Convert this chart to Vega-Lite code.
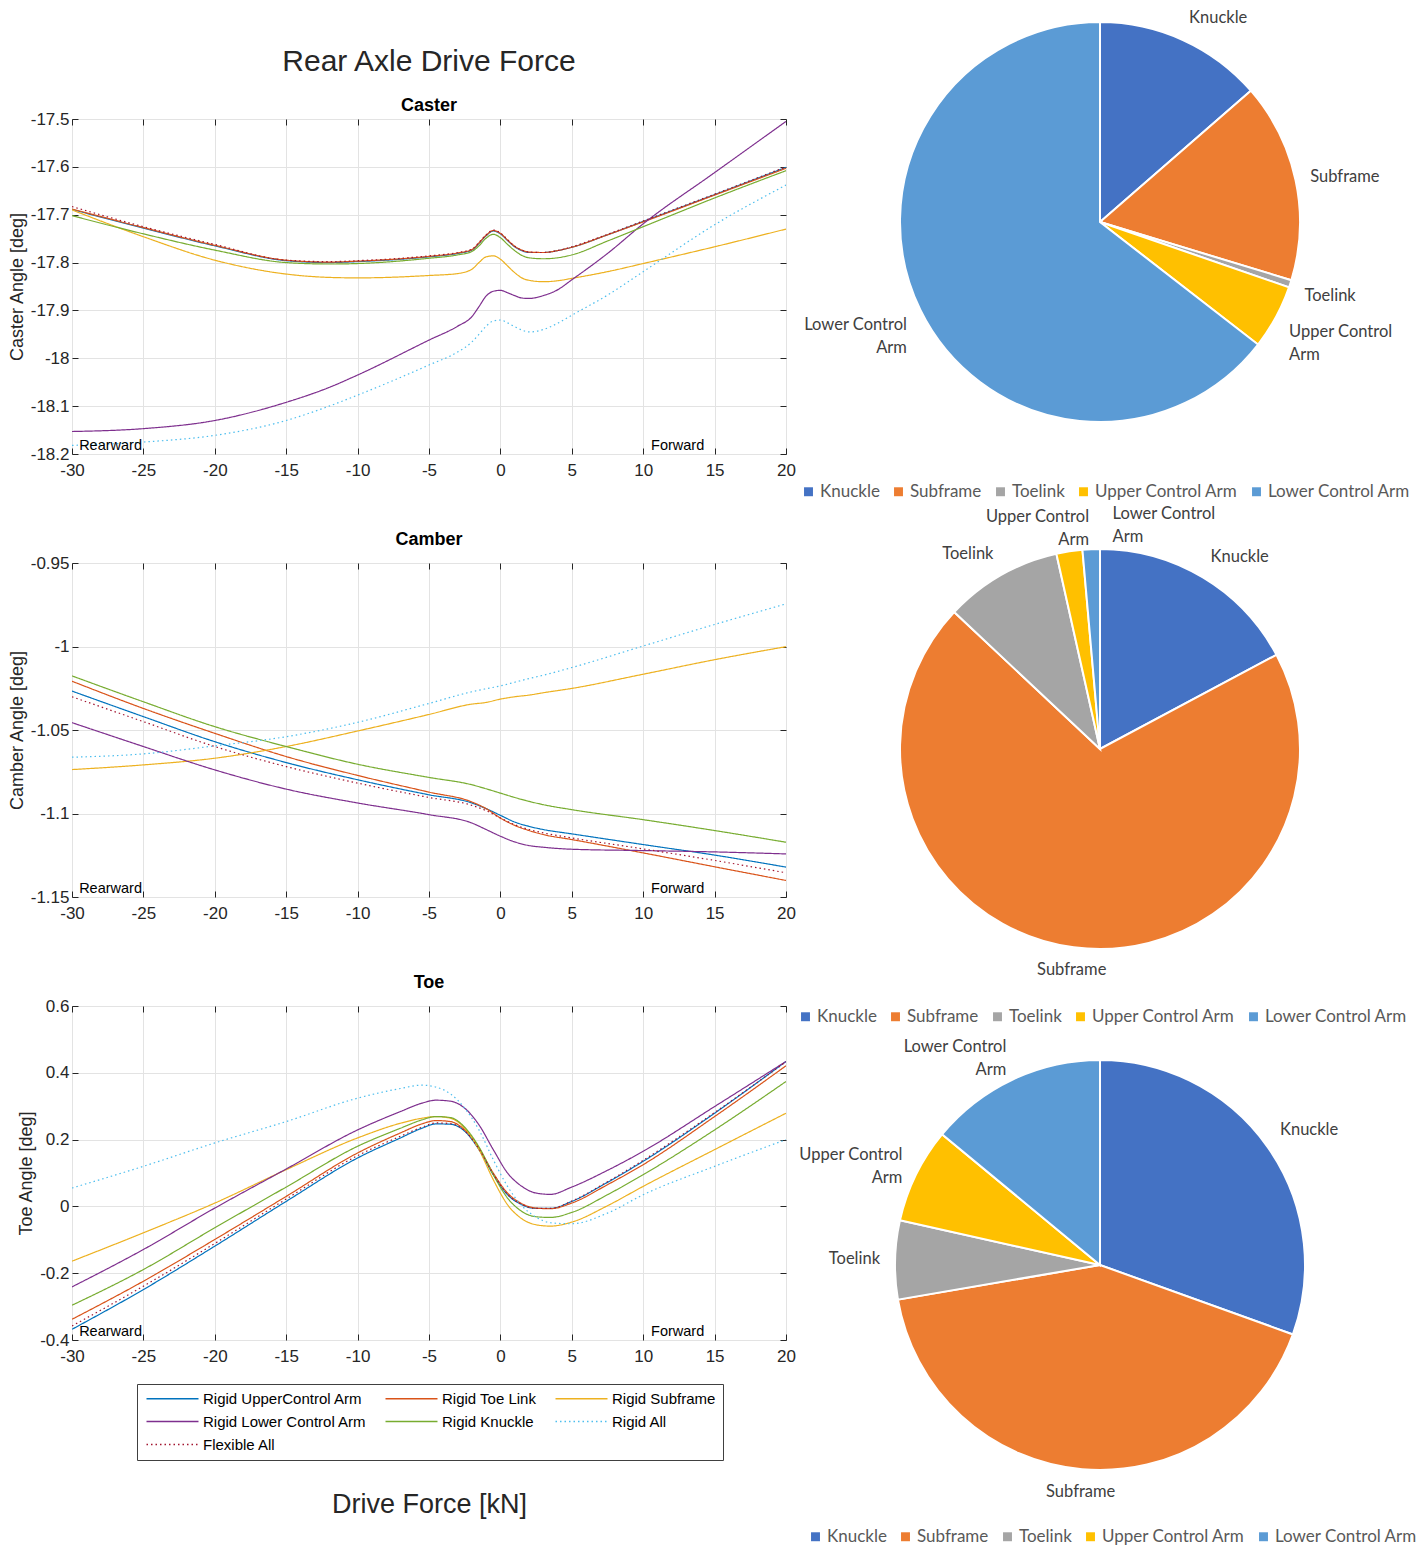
{
  "$schema": "https://vega.github.io/schema/vega-lite/v6.json",
  "background": "white",
  "padding": {"left": 7, "top": 2, "right": 0, "bottom": 0},
  "config": {
    "font": "Liberation Sans",
    "locale": {"number": {"decimal": ".", "thousands": ",", "grouping": [3], "currency": ["$", ""], "minus": "-"}},
    "view": {"stroke": "#262626", "strokeWidth": 1},
    "axis": {"labelFont": "Liberation Sans", "labelFontSize": 17, "labelColor": "#262626", "labelFlush": false, "titleFont": "Liberation Sans", "titleFontSize": 18, "titleFontWeight": "normal", "titleColor": "#262626", "gridColor": "#e3e3e3", "tickColor": "#262626", "domain": false},
    "title": {"font": "Liberation Sans", "color": "#262626"}
  },
  "datasets": {
    "caster": [
      {"x": -30, "Rigid UpperControl Arm": -17.689, "Rigid Toe Link": -17.688, "Rigid Subframe": -17.690, "Rigid Lower Control Arm": -18.153, "Rigid Knuckle": -17.702, "Rigid All": -18.182, "Flexible All": -17.683},
      {"x": -25, "Rigid UpperControl Arm": -17.728, "Rigid Toe Link": -17.727, "Rigid Subframe": -17.746, "Rigid Lower Control Arm": -18.147, "Rigid Knuckle": -17.740, "Rigid All": -18.175, "Flexible All": -17.725},
      {"x": -20, "Rigid UpperControl Arm": -17.765, "Rigid Toe Link": -17.764, "Rigid Subframe": -17.795, "Rigid Lower Control Arm": -18.130, "Rigid Knuckle": -17.774, "Rigid All": -18.161, "Flexible All": -17.762},
      {"x": -15, "Rigid UpperControl Arm": -17.796, "Rigid Toe Link": -17.795, "Rigid Subframe": -17.824, "Rigid Lower Control Arm": -18.092, "Rigid Knuckle": -17.800, "Rigid All": -18.130, "Flexible All": -17.795},
      {"x": -12, "Rigid UpperControl Arm": -17.800, "Rigid Toe Link": -17.799, "Rigid Subframe": -17.831, "Rigid Lower Control Arm": -18.061, "Rigid Knuckle": -17.803, "Rigid All": -18.100, "Flexible All": -17.798},
      {"x": -10, "Rigid UpperControl Arm": -17.798, "Rigid Toe Link": -17.797, "Rigid Subframe": -17.832, "Rigid Lower Control Arm": -18.035, "Rigid Knuckle": -17.802, "Rigid All": -18.077, "Flexible All": -17.796},
      {"x": -5, "Rigid UpperControl Arm": -17.788, "Rigid Toe Link": -17.787, "Rigid Subframe": -17.827, "Rigid Lower Control Arm": -17.962, "Rigid Knuckle": -17.791, "Rigid All": -18.014, "Flexible All": -17.786},
      {"x": -3, "Rigid UpperControl Arm": -17.781, "Rigid Toe Link": -17.780, "Rigid Subframe": -17.823, "Rigid Lower Control Arm": -17.933, "Rigid Knuckle": -17.784, "Rigid All": -17.987, "Flexible All": -17.779},
      {"x": -2, "Rigid UpperControl Arm": -17.774, "Rigid Toe Link": -17.773, "Rigid Subframe": -17.814, "Rigid Lower Control Arm": -17.913, "Rigid Knuckle": -17.777, "Rigid All": -17.966, "Flexible All": -17.772},
      {"x": -1.5, "Rigid UpperControl Arm": -17.760, "Rigid Toe Link": -17.759, "Rigid Subframe": -17.800, "Rigid Lower Control Arm": -17.892, "Rigid Knuckle": -17.765, "Rigid All": -17.950, "Flexible All": -17.758},
      {"x": -1, "Rigid UpperControl Arm": -17.744, "Rigid Toe Link": -17.743, "Rigid Subframe": -17.788, "Rigid Lower Control Arm": -17.870, "Rigid Knuckle": -17.749, "Rigid All": -17.933, "Flexible All": -17.742},
      {"x": -0.5, "Rigid UpperControl Arm": -17.734, "Rigid Toe Link": -17.733, "Rigid Subframe": -17.786, "Rigid Lower Control Arm": -17.860, "Rigid Knuckle": -17.741, "Rigid All": -17.922, "Flexible All": -17.732},
      {"x": 0, "Rigid UpperControl Arm": -17.740, "Rigid Toe Link": -17.739, "Rigid Subframe": -17.793, "Rigid Lower Control Arm": -17.858, "Rigid Knuckle": -17.748, "Rigid All": -17.920, "Flexible All": -17.738},
      {"x": 0.5, "Rigid UpperControl Arm": -17.754, "Rigid Toe Link": -17.753, "Rigid Subframe": -17.807, "Rigid Lower Control Arm": -17.863, "Rigid Knuckle": -17.762, "Rigid All": -17.926, "Flexible All": -17.752},
      {"x": 1, "Rigid UpperControl Arm": -17.767, "Rigid Toe Link": -17.766, "Rigid Subframe": -17.821, "Rigid Lower Control Arm": -17.869, "Rigid Knuckle": -17.775, "Rigid All": -17.934, "Flexible All": -17.766},
      {"x": 1.5, "Rigid UpperControl Arm": -17.775, "Rigid Toe Link": -17.774, "Rigid Subframe": -17.832, "Rigid Lower Control Arm": -17.874, "Rigid Knuckle": -17.785, "Rigid All": -17.941, "Flexible All": -17.774},
      {"x": 2, "Rigid UpperControl Arm": -17.779, "Rigid Toe Link": -17.778, "Rigid Subframe": -17.837, "Rigid Lower Control Arm": -17.875, "Rigid Knuckle": -17.790, "Rigid All": -17.945, "Flexible All": -17.778},
      {"x": 3, "Rigid UpperControl Arm": -17.779, "Rigid Toe Link": -17.779, "Rigid Subframe": -17.840, "Rigid Lower Control Arm": -17.869, "Rigid Knuckle": -17.792, "Rigid All": -17.940, "Flexible All": -17.779},
      {"x": 4, "Rigid UpperControl Arm": -17.775, "Rigid Toe Link": -17.775, "Rigid Subframe": -17.838, "Rigid Lower Control Arm": -17.857, "Rigid Knuckle": -17.790, "Rigid All": -17.927, "Flexible All": -17.775},
      {"x": 5, "Rigid UpperControl Arm": -17.768, "Rigid Toe Link": -17.768, "Rigid Subframe": -17.833, "Rigid Lower Control Arm": -17.836, "Rigid Knuckle": -17.784, "Rigid All": -17.910, "Flexible All": -17.767},
      {"x": 7.5, "Rigid UpperControl Arm": -17.742, "Rigid Toe Link": -17.742, "Rigid Subframe": -17.819, "Rigid Lower Control Arm": -17.781, "Rigid Knuckle": -17.755, "Rigid All": -17.868, "Flexible All": -17.741},
      {"x": 10, "Rigid UpperControl Arm": -17.714, "Rigid Toe Link": -17.715, "Rigid Subframe": -17.802, "Rigid Lower Control Arm": -17.719, "Rigid Knuckle": -17.725, "Rigid All": -17.819, "Flexible All": -17.713},
      {"x": 15, "Rigid UpperControl Arm": -17.658, "Rigid Toe Link": -17.659, "Rigid Subframe": -17.767, "Rigid Lower Control Arm": -17.612, "Rigid Knuckle": -17.665, "Rigid All": -17.721, "Flexible All": -17.657},
      {"x": 20, "Rigid UpperControl Arm": -17.601, "Rigid Toe Link": -17.603, "Rigid Subframe": -17.730, "Rigid Lower Control Arm": -17.505, "Rigid Knuckle": -17.608, "Rigid All": -17.638, "Flexible All": -17.600}
    ],
    "camber": [
      {"x": -30, "Rigid UpperControl Arm": -1.0267, "Rigid Toe Link": -1.0208, "Rigid Subframe": -1.0737, "Rigid Lower Control Arm": -1.0456, "Rigid Knuckle": -1.0176, "Rigid All": -1.0663, "Flexible All": -1.0301},
      {"x": -25, "Rigid UpperControl Arm": -1.0420, "Rigid Toe Link": -1.0371, "Rigid Subframe": -1.0709, "Rigid Lower Control Arm": -1.0599, "Rigid Knuckle": -1.0331, "Rigid All": -1.0643, "Flexible All": -1.0450},
      {"x": -20, "Rigid UpperControl Arm": -1.0570, "Rigid Toe Link": -1.0520, "Rigid Subframe": -1.0669, "Rigid Lower Control Arm": -1.0739, "Rigid Knuckle": -1.0480, "Rigid All": -1.0595, "Flexible All": -1.0599},
      {"x": -15, "Rigid UpperControl Arm": -1.0695, "Rigid Toe Link": -1.0659, "Rigid Subframe": -1.0599, "Rigid Lower Control Arm": -1.0854, "Rigid Knuckle": -1.0599, "Rigid All": -1.0540, "Flexible All": -1.0719},
      {"x": -10, "Rigid UpperControl Arm": -1.0798, "Rigid Toe Link": -1.0772, "Rigid Subframe": -1.0506, "Rigid Lower Control Arm": -1.0937, "Rigid Knuckle": -1.0705, "Rigid All": -1.0454, "Flexible All": -1.0818},
      {"x": -5, "Rigid UpperControl Arm": -1.0888, "Rigid Toe Link": -1.0872, "Rigid Subframe": -1.0407, "Rigid Lower Control Arm": -1.1007, "Rigid Knuckle": -1.0784, "Rigid All": -1.0341, "Flexible All": -1.0904},
      {"x": -2, "Rigid UpperControl Arm": -1.0937, "Rigid Toe Link": -1.0931, "Rigid Subframe": -1.0345, "Rigid Lower Control Arm": -1.1057, "Rigid Knuckle": -1.0828, "Rigid All": -1.0271, "Flexible All": -1.0951},
      {"x": -1, "Rigid UpperControl Arm": -1.0971, "Rigid Toe Link": -1.0971, "Rigid Subframe": -1.0335, "Rigid Lower Control Arm": -1.1096, "Rigid Knuckle": -1.0852, "Rigid All": -1.0253, "Flexible All": -1.0983},
      {"x": 0, "Rigid UpperControl Arm": -1.1011, "Rigid Toe Link": -1.1027, "Rigid Subframe": -1.0315, "Rigid Lower Control Arm": -1.1136, "Rigid Knuckle": -1.0878, "Rigid All": -1.0236, "Flexible All": -1.1027},
      {"x": 1, "Rigid UpperControl Arm": -1.1051, "Rigid Toe Link": -1.1071, "Rigid Subframe": -1.0301, "Rigid Lower Control Arm": -1.1170, "Rigid Knuckle": -1.0904, "Rigid All": -1.0214, "Flexible All": -1.1067},
      {"x": 2, "Rigid UpperControl Arm": -1.1077, "Rigid Toe Link": -1.1102, "Rigid Subframe": -1.0291, "Rigid Lower Control Arm": -1.1192, "Rigid Knuckle": -1.0927, "Rigid All": -1.0192, "Flexible All": -1.1096},
      {"x": 3, "Rigid UpperControl Arm": -1.1096, "Rigid Toe Link": -1.1126, "Rigid Subframe": -1.0277, "Rigid Lower Control Arm": -1.1202, "Rigid Knuckle": -1.0947, "Rigid All": -1.0172, "Flexible All": -1.1116},
      {"x": 5, "Rigid UpperControl Arm": -1.1122, "Rigid Toe Link": -1.1156, "Rigid Subframe": -1.0251, "Rigid Lower Control Arm": -1.1214, "Rigid Knuckle": -1.0977, "Rigid All": -1.0126, "Flexible All": -1.1146},
      {"x": 10, "Rigid UpperControl Arm": -1.1186, "Rigid Toe Link": -1.1236, "Rigid Subframe": -1.0166, "Rigid Lower Control Arm": -1.1222, "Rigid Knuckle": -1.1037, "Rigid All": -0.9997, "Flexible All": -1.1212},
      {"x": 15, "Rigid UpperControl Arm": -1.1249, "Rigid Toe Link": -1.1319, "Rigid Subframe": -1.0079, "Rigid Lower Control Arm": -1.1230, "Rigid Knuckle": -1.1102, "Rigid All": -0.9868, "Flexible All": -1.1281},
      {"x": 20, "Rigid UpperControl Arm": -1.1321, "Rigid Toe Link": -1.1401, "Rigid Subframe": -1.0001, "Rigid Lower Control Arm": -1.1242, "Rigid Knuckle": -1.1172, "Rigid All": -0.9745, "Flexible All": -1.1355}
    ],
    "toe": [
      {"x": -30, "Rigid UpperControl Arm": -0.368, "Rigid Toe Link": -0.338, "Rigid Subframe": -0.164, "Rigid Lower Control Arm": -0.241, "Rigid Knuckle": -0.296, "Rigid All": 0.055, "Flexible All": -0.358},
      {"x": -25, "Rigid UpperControl Arm": -0.249, "Rigid Toe Link": -0.224, "Rigid Subframe": -0.079, "Rigid Lower Control Arm": -0.129, "Rigid Knuckle": -0.189, "Rigid All": 0.120, "Flexible All": -0.239},
      {"x": -20, "Rigid UpperControl Arm": -0.119, "Rigid Toe Link": -0.099, "Rigid Subframe": 0.010, "Rigid Lower Control Arm": -0.005, "Rigid Knuckle": -0.064, "Rigid All": 0.190, "Flexible All": -0.111},
      {"x": -15, "Rigid UpperControl Arm": 0.015, "Rigid Toe Link": 0.030, "Rigid Subframe": 0.110, "Rigid Lower Control Arm": 0.112, "Rigid Knuckle": 0.058, "Rigid All": 0.254, "Flexible All": 0.022},
      {"x": -10, "Rigid UpperControl Arm": 0.145, "Rigid Toe Link": 0.160, "Rigid Subframe": 0.205, "Rigid Lower Control Arm": 0.229, "Rigid Knuckle": 0.180, "Rigid All": 0.324, "Flexible All": 0.152},
      {"x": -7, "Rigid UpperControl Arm": 0.205, "Rigid Toe Link": 0.220, "Rigid Subframe": 0.249, "Rigid Lower Control Arm": 0.284, "Rigid Knuckle": 0.234, "Rigid All": 0.353, "Flexible All": 0.210},
      {"x": -5.5, "Rigid UpperControl Arm": 0.234, "Rigid Toe Link": 0.247, "Rigid Subframe": 0.264, "Rigid Lower Control Arm": 0.309, "Rigid Knuckle": 0.259, "Rigid All": 0.363, "Flexible All": 0.237},
      {"x": -4.5, "Rigid UpperControl Arm": 0.247, "Rigid Toe Link": 0.257, "Rigid Subframe": 0.269, "Rigid Lower Control Arm": 0.318, "Rigid Knuckle": 0.269, "Rigid All": 0.357, "Flexible All": 0.250},
      {"x": -3.5, "Rigid UpperControl Arm": 0.246, "Rigid Toe Link": 0.254, "Rigid Subframe": 0.264, "Rigid Lower Control Arm": 0.315, "Rigid Knuckle": 0.266, "Rigid All": 0.337, "Flexible All": 0.248},
      {"x": -2.5, "Rigid UpperControl Arm": 0.225, "Rigid Toe Link": 0.229, "Rigid Subframe": 0.234, "Rigid Lower Control Arm": 0.294, "Rigid Knuckle": 0.237, "Rigid All": 0.294, "Flexible All": 0.226},
      {"x": -1.5, "Rigid UpperControl Arm": 0.170, "Rigid Toe Link": 0.175, "Rigid Subframe": 0.170, "Rigid Lower Control Arm": 0.244, "Rigid Knuckle": 0.178, "Rigid All": 0.229, "Flexible All": 0.172},
      {"x": -0.5, "Rigid UpperControl Arm": 0.095, "Rigid Toe Link": 0.100, "Rigid Subframe": 0.080, "Rigid Lower Control Arm": 0.170, "Rigid Knuckle": 0.095, "Rigid All": 0.140, "Flexible All": 0.097},
      {"x": 0.5, "Rigid UpperControl Arm": 0.035, "Rigid Toe Link": 0.040, "Rigid Subframe": 0.005, "Rigid Lower Control Arm": 0.100, "Rigid Knuckle": 0.025, "Rigid All": 0.060, "Flexible All": 0.036},
      {"x": 1.5, "Rigid UpperControl Arm": 0.005, "Rigid Toe Link": 0.008, "Rigid Subframe": -0.037, "Rigid Lower Control Arm": 0.060, "Rigid Knuckle": -0.015, "Rigid All": 0.002, "Flexible All": 0.006},
      {"x": 2.5, "Rigid UpperControl Arm": -0.006, "Rigid Toe Link": -0.005, "Rigid Subframe": -0.055, "Rigid Lower Control Arm": 0.040, "Rigid Knuckle": -0.031, "Rigid All": -0.032, "Flexible All": -0.006},
      {"x": 3.5, "Rigid UpperControl Arm": -0.006, "Rigid Toe Link": -0.007, "Rigid Subframe": -0.059, "Rigid Lower Control Arm": 0.036, "Rigid Knuckle": -0.033, "Rigid All": -0.049, "Flexible All": -0.006},
      {"x": 5, "Rigid UpperControl Arm": 0.015, "Rigid Toe Link": 0.010, "Rigid Subframe": -0.047, "Rigid Lower Control Arm": 0.058, "Rigid Knuckle": -0.018, "Rigid All": -0.052, "Flexible All": 0.016},
      {"x": 7.5, "Rigid UpperControl Arm": 0.072, "Rigid Toe Link": 0.065, "Rigid Subframe": 0.002, "Rigid Lower Control Arm": 0.108, "Rigid Knuckle": 0.035, "Rigid All": -0.020, "Flexible All": 0.074},
      {"x": 10, "Rigid UpperControl Arm": 0.135, "Rigid Toe Link": 0.125, "Rigid Subframe": 0.060, "Rigid Lower Control Arm": 0.165, "Rigid Knuckle": 0.095, "Rigid All": 0.035, "Flexible All": 0.138},
      {"x": 15, "Rigid UpperControl Arm": 0.279, "Rigid Toe Link": 0.269, "Rigid Subframe": 0.170, "Rigid Lower Control Arm": 0.299, "Rigid Knuckle": 0.229, "Rigid All": 0.120, "Flexible All": 0.281},
      {"x": 20, "Rigid UpperControl Arm": 0.434, "Rigid Toe Link": 0.421, "Rigid Subframe": 0.279, "Rigid Lower Control Arm": 0.434, "Rigid Knuckle": 0.374, "Rigid All": 0.200, "Flexible All": 0.433}
    ],
    "pie1": [
      {"part": "Knuckle", "lab": "Knuckle", "v": 13.6, "o": 1},
      {"part": "Subframe", "lab": "Subframe", "v": 16.1, "o": 2},
      {"part": "Toelink", "lab": "Toelink", "v": 0.6, "o": 3},
      {"part": "Upper Control Arm", "lab": "Upper Control\nArm", "v": 5.2, "o": 4},
      {"part": "Lower Control Arm", "lab": "Lower Control\nArm", "v": 64.5, "o": 5}
    ],
    "pie2": [
      {"part": "Knuckle", "lab": "Knuckle", "v": 17.2, "o": 1},
      {"part": "Subframe", "lab": "Subframe", "v": 69.8, "o": 2},
      {"part": "Toelink", "lab": "Toelink", "v": 9.5, "o": 3},
      {"part": "Upper Control Arm", "lab": "Upper Control\nArm", "v": 2.1, "o": 4},
      {"part": "Lower Control Arm", "lab": "Lower Control\nArm", "v": 1.4, "o": 5}
    ],
    "pie3": [
      {"part": "Knuckle", "lab": "Knuckle", "v": 30.5, "o": 1},
      {"part": "Subframe", "lab": "Subframe", "v": 41.8, "o": 2},
      {"part": "Toelink", "lab": "Toelink", "v": 6.2, "o": 3},
      {"part": "Upper Control Arm", "lab": "Upper Control\nArm", "v": 7.5, "o": 4},
      {"part": "Lower Control Arm", "lab": "Lower Control\nArm", "v": 14.0, "o": 5}
    ]
  },
  "spacing": 1,
  "resolve": {"scale": {"color": "independent", "strokeDash": "independent", "theta": "independent"}, "legend": {"color": "independent", "strokeDash": "independent"}},
  "hconcat": [
    {
      "spacing": 51,
      "resolve": {"scale": {"color": "independent", "strokeDash": "independent"}, "legend": {"color": "independent", "strokeDash": "independent"}},
      "vconcat": [
        {
          "width": 714, "height": 335,
          "title": {"text": ["", "Rear Axle Drive Force"], "subtitle": "Caster", "fontSize": 30, "fontWeight": "normal", "lineHeight": 44, "subtitleFont": "Liberation Sans", "subtitleFontSize": 18, "subtitleFontWeight": "bold", "subtitleColor": "#000000", "subtitlePadding": 20, "offset": -5, "anchor": "middle"},
          "layer": [
            {
              "data": {"name": "caster"},
              "transform": [{"fold": ["Rigid UpperControl Arm", "Rigid Toe Link", "Rigid Subframe", "Rigid Lower Control Arm", "Rigid Knuckle", "Rigid All", "Flexible All"], "as": ["series", "val"]}],
              "mark": {"type": "line", "strokeWidth": 1.2, "interpolate": "monotone", "clip": true},
              "encoding": {
                "x": {"field": "x", "type": "quantitative", "scale": {"domain": [-30, 20], "nice": false, "zero": false}, "axis": {"values": [-30, -25, -20, -15, -10, -5, 0, 5, 10, 15, 20], "title": null, "grid": true, "tickSize": -6, "labelPadding": 14, "format": "~g"}},
                "y": {"field": "val", "type": "quantitative", "scale": {"domain": [-18.2, -17.5], "nice": false, "zero": false}, "axis": {"values": [-18.2, -18.1, -18, -17.9, -17.8, -17.7, -17.6, -17.5], "title": "Caster Angle [deg]", "grid": true, "tickSize": -6, "labelPadding": 9, "titlePadding": 4, "format": "~g"}},
                "color": {"field": "series", "type": "nominal", "scale": {"domain": ["Rigid UpperControl Arm", "Rigid Toe Link", "Rigid Subframe", "Rigid Lower Control Arm", "Rigid Knuckle", "Rigid All", "Flexible All"], "range": ["#0072BD", "#D95319", "#EDB120", "#7E2F8E", "#77AC30", "#4DBEEE", "#A2142F"]}, "legend": null},
                "strokeDash": {"field": "series", "type": "nominal", "scale": {"domain": ["Rigid UpperControl Arm", "Rigid Toe Link", "Rigid Subframe", "Rigid Lower Control Arm", "Rigid Knuckle", "Rigid All", "Flexible All"], "range": [[1, 0], [1, 0], [1, 0], [1, 0], [1, 0], [1.5, 3], [1.5, 3]]}, "legend": null}
              }
            },
            {
              "data": {"values": [{"x": -29.5, "y": -18.2, "label": "Rearward"}, {"x": 10.55, "y": -18.2, "label": "Forward"}]},
              "mark": {"type": "text", "align": "left", "baseline": "bottom", "dy": -1, "fontSize": 14.5, "color": "#000000"},
              "encoding": {
                "x": {"field": "x", "type": "quantitative", "scale": {"domain": [-30, 20], "nice": false, "zero": false}, "axis": {"orient": "top", "values": [-30, -25, -20, -15, -10, -5, 0, 5, 10, 15, 20], "labels": false, "title": null, "grid": false, "tickSize": -6}},
                "y": {"field": "y", "type": "quantitative", "scale": {"domain": [-18.2, -17.5], "nice": false, "zero": false}, "axis": {"orient": "right", "values": [-18.2, -18.1, -18, -17.9, -17.8, -17.7, -17.6, -17.5], "labels": false, "title": null, "grid": false, "tickSize": -6}},
                "text": {"field": "label"}
              }
            }
          ],
          "resolve": {"axis": {"x": "independent", "y": "independent"}}
        },
        {
          "width": 714, "height": 334,
          "title": {"text": "Camber", "fontSize": 18, "fontWeight": "bold", "color": "#000000", "offset": 5, "anchor": "middle"},
          "layer": [
            {
              "data": {"name": "camber"},
              "transform": [{"fold": ["Rigid UpperControl Arm", "Rigid Toe Link", "Rigid Subframe", "Rigid Lower Control Arm", "Rigid Knuckle", "Rigid All", "Flexible All"], "as": ["series", "val"]}],
              "mark": {"type": "line", "strokeWidth": 1.2, "interpolate": "monotone", "clip": true},
              "encoding": {
                "x": {"field": "x", "type": "quantitative", "scale": {"domain": [-30, 20], "nice": false, "zero": false}, "axis": {"values": [-30, -25, -20, -15, -10, -5, 0, 5, 10, 15, 20], "title": null, "grid": true, "tickSize": -6, "labelPadding": 14, "format": "~g"}},
                "y": {"field": "val", "type": "quantitative", "scale": {"domain": [-1.15, -0.95], "nice": false, "zero": false}, "axis": {"values": [-1.15, -1.1, -1.05, -1, -0.95], "title": "Camber Angle [deg]", "grid": true, "tickSize": -6, "labelPadding": 9, "titlePadding": 4, "format": "~g"}},
                "color": {"field": "series", "type": "nominal", "scale": {"domain": ["Rigid UpperControl Arm", "Rigid Toe Link", "Rigid Subframe", "Rigid Lower Control Arm", "Rigid Knuckle", "Rigid All", "Flexible All"], "range": ["#0072BD", "#D95319", "#EDB120", "#7E2F8E", "#77AC30", "#4DBEEE", "#A2142F"]}, "legend": null},
                "strokeDash": {"field": "series", "type": "nominal", "scale": {"domain": ["Rigid UpperControl Arm", "Rigid Toe Link", "Rigid Subframe", "Rigid Lower Control Arm", "Rigid Knuckle", "Rigid All", "Flexible All"], "range": [[1, 0], [1, 0], [1, 0], [1, 0], [1, 0], [1.5, 3], [1.5, 3]]}, "legend": null}
              }
            },
            {
              "data": {"values": [{"x": -29.5, "y": -1.15, "label": "Rearward"}, {"x": 10.55, "y": -1.15, "label": "Forward"}]},
              "mark": {"type": "text", "align": "left", "baseline": "bottom", "dy": -1, "fontSize": 14.5, "color": "#000000"},
              "encoding": {
                "x": {"field": "x", "type": "quantitative", "scale": {"domain": [-30, 20], "nice": false, "zero": false}, "axis": {"orient": "top", "values": [-30, -25, -20, -15, -10, -5, 0, 5, 10, 15, 20], "labels": false, "title": null, "grid": false, "tickSize": -6}},
                "y": {"field": "y", "type": "quantitative", "scale": {"domain": [-1.15, -0.95], "nice": false, "zero": false}, "axis": {"orient": "right", "values": [-1.15, -1.1, -1.05, -1, -0.95], "labels": false, "title": null, "grid": false, "tickSize": -6}},
                "text": {"field": "label"}
              }
            }
          ],
          "resolve": {"axis": {"x": "independent", "y": "independent"}}
        },
        {
          "width": 714, "height": 334,
          "title": {"text": "Toe", "fontSize": 18, "fontWeight": "bold", "color": "#000000", "offset": 5, "anchor": "middle"},
          "layer": [
            {
              "data": {"name": "toe"},
              "transform": [{"fold": ["Rigid UpperControl Arm", "Rigid Toe Link", "Rigid Subframe", "Rigid Lower Control Arm", "Rigid Knuckle", "Rigid All", "Flexible All"], "as": ["series", "val"]}],
              "mark": {"type": "line", "strokeWidth": 1.2, "interpolate": "monotone", "clip": true},
              "encoding": {
                "x": {"field": "x", "type": "quantitative", "scale": {"domain": [-30, 20], "nice": false, "zero": false}, "axis": {"values": [-30, -25, -20, -15, -10, -5, 0, 5, 10, 15, 20], "title": "Drive Force [kN]", "titleFontSize": 27, "titlePadding": 127, "grid": true, "tickSize": -6, "labelPadding": 14, "format": "~g"}},
                "y": {"field": "val", "type": "quantitative", "scale": {"domain": [-0.4, 0.6], "nice": false, "zero": false}, "axis": {"values": [-0.4, -0.2, 0, 0.2, 0.4, 0.6], "title": "Toe Angle [deg]", "grid": true, "tickSize": -6, "labelPadding": 9, "titlePadding": 4, "format": "~g"}},
                "color": {"field": "series", "type": "nominal", "scale": {"domain": ["Rigid UpperControl Arm", "Rigid Lower Control Arm", "Rigid All", "Rigid Toe Link", "Rigid Knuckle", "Flexible All", "Rigid Subframe"], "range": ["#0072BD", "#7E2F8E", "#4DBEEE", "#D95319", "#77AC30", "#A2142F", "#EDB120"]},
                  "legend": {"orient": "none", "legendX": 65, "legendY": 378, "columns": 3, "title": null, "symbolType": "M-1,0H9.4", "symbolSize": 100, "symbolStrokeWidth": 1.3, "symbolFillColor": "transparent", "labelFont": "Liberation Sans", "labelFontSize": 15, "labelColor": "#000000", "labelOffset": 44, "labelLimit": 400, "strokeColor": "#404040", "fillColor": "white", "padding": 7, "rowPadding": 7, "columnPadding": 15,
                    "encode": {"symbols": {"update": {"strokeDash": {"signal": "datum.value === 'Rigid All' || datum.value === 'Flexible All' ? [1.5, 3] : [1, 0]"}}}}}},
                "strokeDash": {"field": "series", "type": "nominal", "scale": {"domain": ["Rigid UpperControl Arm", "Rigid Toe Link", "Rigid Subframe", "Rigid Lower Control Arm", "Rigid Knuckle", "Rigid All", "Flexible All"], "range": [[1, 0], [1, 0], [1, 0], [1, 0], [1, 0], [1.5, 3], [1.5, 3]]}, "legend": null}
              }
            },
            {
              "data": {"values": [{"x": -29.5, "y": -0.4, "label": "Rearward"}, {"x": 10.55, "y": -0.4, "label": "Forward"}]},
              "mark": {"type": "text", "align": "left", "baseline": "bottom", "dy": -1, "fontSize": 14.5, "color": "#000000"},
              "encoding": {
                "x": {"field": "x", "type": "quantitative", "scale": {"domain": [-30, 20], "nice": false, "zero": false}, "axis": {"orient": "top", "values": [-30, -25, -20, -15, -10, -5, 0, 5, 10, 15, 20], "labels": false, "title": null, "grid": false, "tickSize": -6}},
                "y": {"field": "y", "type": "quantitative", "scale": {"domain": [-0.4, 0.6], "nice": false, "zero": false}, "axis": {"orient": "right", "values": [-0.4, -0.2, 0, 0.2, 0.4, 0.6], "labels": false, "title": null, "grid": false, "tickSize": -6}},
                "text": {"field": "label"}
              }
            }
          ],
          "resolve": {"axis": {"x": "independent", "y": "independent"}}
        }
      ]
    },
    {
      "spacing": 150,
      "bounds": "flush",
      "resolve": {"scale": {"color": "independent", "theta": "independent"}, "legend": {"color": "independent"}},
      "vconcat": [
        {
          "width": 600, "height": 206,
          "view": {"stroke": null},
          "data": {"name": "pie1"},
          "encoding": {
            "theta": {"field": "v", "type": "quantitative", "stack": true},
            "order": {"field": "o", "type": "quantitative"}
          },
          "layer": [
            {"mark": {"type": "arc", "outerRadius": 200, "stroke": "white", "strokeWidth": 2},
             "encoding": {"color": {"field": "part", "type": "nominal", "scale": {"domain": ["Knuckle", "Subframe", "Toelink", "Upper Control Arm", "Lower Control Arm"], "range": ["#4472C4", "#ED7D31", "#A5A5A5", "#FFC000", "#5B9BD5"]}, "legend": {"orient": "none", "legendX": 0, "legendY": 364, "direction": "horizontal", "title": null, "symbolType": "square", "symbolSize": 80, "symbolStrokeWidth": 0, "labelFont": "Lato", "labelFontSize": 17, "labelColor": "#595959", "labelOffset": 3, "columnPadding": 10}}}},
            {"mark": {"type": "text", "radius": 215, "font": "Lato", "fontSize": 16.5, "lineBreak": "\n", "lineHeight": 23,
                      "align": {"expr": "sin((datum.v_start+datum.v_end)/100*PI) > 0.3 ? 'left' : sin((datum.v_start+datum.v_end)/100*PI) < -0.3 ? 'right' : cos((datum.v_start+datum.v_end)/100*PI) > 0 ? (sin((datum.v_start+datum.v_end)/100*PI) >= -0.05 ? 'left' : 'right') : 'center'"},
                      "baseline": {"expr": "cos((datum.v_start+datum.v_end)/100*PI) > 0.3 ? 'bottom' : cos((datum.v_start+datum.v_end)/100*PI) < -0.3 ? 'top' : 'middle'"},
                      "dx": {"expr": "cos((datum.v_start+datum.v_end)/100*PI) > 0 && abs(sin((datum.v_start+datum.v_end)/100*PI)) < 0.3 ? 22 : 0"},
                      "dy": {"expr": "(datum.part === 'Upper Control Arm' || datum.part === 'Lower Control Arm') && cos((datum.v_start+datum.v_end)/100*PI) > 0.3 ? -12*cos((datum.v_start+datum.v_end)/100*PI) : 0"}},
             "encoding": {"text": {"field": "lab"}, "color": {"value": "#404040"}}}
          ]
        },
        {
          "width": 600, "height": 548,
          "view": {"stroke": null},
          "data": {"name": "pie2"},
          "encoding": {
            "theta": {"field": "v", "type": "quantitative", "stack": true},
            "order": {"field": "o", "type": "quantitative"}
          },
          "layer": [
            {"mark": {"type": "arc", "outerRadius": 200, "stroke": "white", "strokeWidth": 2},
             "encoding": {"color": {"field": "part", "type": "nominal", "scale": {"domain": ["Knuckle", "Subframe", "Toelink", "Upper Control Arm", "Lower Control Arm"], "range": ["#4472C4", "#ED7D31", "#A5A5A5", "#FFC000", "#5B9BD5"]}, "legend": {"orient": "none", "legendX": -3, "legendY": 533, "direction": "horizontal", "title": null, "symbolType": "square", "symbolSize": 80, "symbolStrokeWidth": 0, "labelFont": "Lato", "labelFontSize": 17, "labelColor": "#595959", "labelOffset": 3, "columnPadding": 10}}}},
            {"mark": {"type": "text", "radius": 215, "font": "Lato", "fontSize": 16.5, "lineBreak": "\n", "lineHeight": 23,
                      "align": {"expr": "sin((datum.v_start+datum.v_end)/100*PI) > 0.3 ? 'left' : sin((datum.v_start+datum.v_end)/100*PI) < -0.3 ? 'right' : cos((datum.v_start+datum.v_end)/100*PI) > 0 ? (sin((datum.v_start+datum.v_end)/100*PI) >= -0.05 ? 'left' : 'right') : 'center'"},
                      "baseline": {"expr": "cos((datum.v_start+datum.v_end)/100*PI) > 0.3 ? 'bottom' : cos((datum.v_start+datum.v_end)/100*PI) < -0.3 ? 'top' : 'middle'"},
                      "dx": {"expr": "cos((datum.v_start+datum.v_end)/100*PI) > 0 && abs(sin((datum.v_start+datum.v_end)/100*PI)) < 0.3 ? 22 : 0"},
                      "dy": {"expr": "(datum.part === 'Upper Control Arm' || datum.part === 'Lower Control Arm') && cos((datum.v_start+datum.v_end)/100*PI) > 0.3 ? -12*cos((datum.v_start+datum.v_end)/100*PI) : 0"}},
             "encoding": {"text": {"field": "lab"}, "color": {"value": "#404040"}}}
          ]
        },
        {
          "width": 600, "height": 184,
          "view": {"stroke": null},
          "data": {"name": "pie3"},
          "encoding": {
            "theta": {"field": "v", "type": "quantitative", "stack": true},
            "order": {"field": "o", "type": "quantitative"}
          },
          "layer": [
            {"mark": {"type": "arc", "outerRadius": 205, "stroke": "white", "strokeWidth": 2},
             "encoding": {"color": {"field": "part", "type": "nominal", "scale": {"domain": ["Knuckle", "Subframe", "Toelink", "Upper Control Arm", "Lower Control Arm"], "range": ["#4472C4", "#ED7D31", "#A5A5A5", "#FFC000", "#5B9BD5"]}, "legend": {"orient": "none", "legendX": 7, "legendY": 355, "direction": "horizontal", "title": null, "symbolType": "square", "symbolSize": 80, "symbolStrokeWidth": 0, "labelFont": "Lato", "labelFontSize": 17, "labelColor": "#595959", "labelOffset": 3, "columnPadding": 10}}}},
            {"mark": {"type": "text", "radius": 220, "font": "Lato", "fontSize": 16.5, "lineBreak": "\n", "lineHeight": 23,
                      "align": {"expr": "sin((datum.v_start+datum.v_end)/100*PI) > 0.3 ? 'left' : sin((datum.v_start+datum.v_end)/100*PI) < -0.3 ? 'right' : cos((datum.v_start+datum.v_end)/100*PI) > 0 ? (sin((datum.v_start+datum.v_end)/100*PI) >= -0.05 ? 'left' : 'right') : 'center'"},
                      "baseline": {"expr": "cos((datum.v_start+datum.v_end)/100*PI) > 0.3 ? 'bottom' : cos((datum.v_start+datum.v_end)/100*PI) < -0.3 ? 'top' : 'middle'"},
                      "dx": {"expr": "cos((datum.v_start+datum.v_end)/100*PI) > 0 && abs(sin((datum.v_start+datum.v_end)/100*PI)) < 0.3 ? 22 : 0"},
                      "dy": {"expr": "(datum.part === 'Upper Control Arm' || datum.part === 'Lower Control Arm') && cos((datum.v_start+datum.v_end)/100*PI) > 0.3 ? -12*cos((datum.v_start+datum.v_end)/100*PI) : 0"}},
             "encoding": {"text": {"field": "lab"}, "color": {"value": "#404040"}}}
          ]
        }
      ]
    }
  ]
}
